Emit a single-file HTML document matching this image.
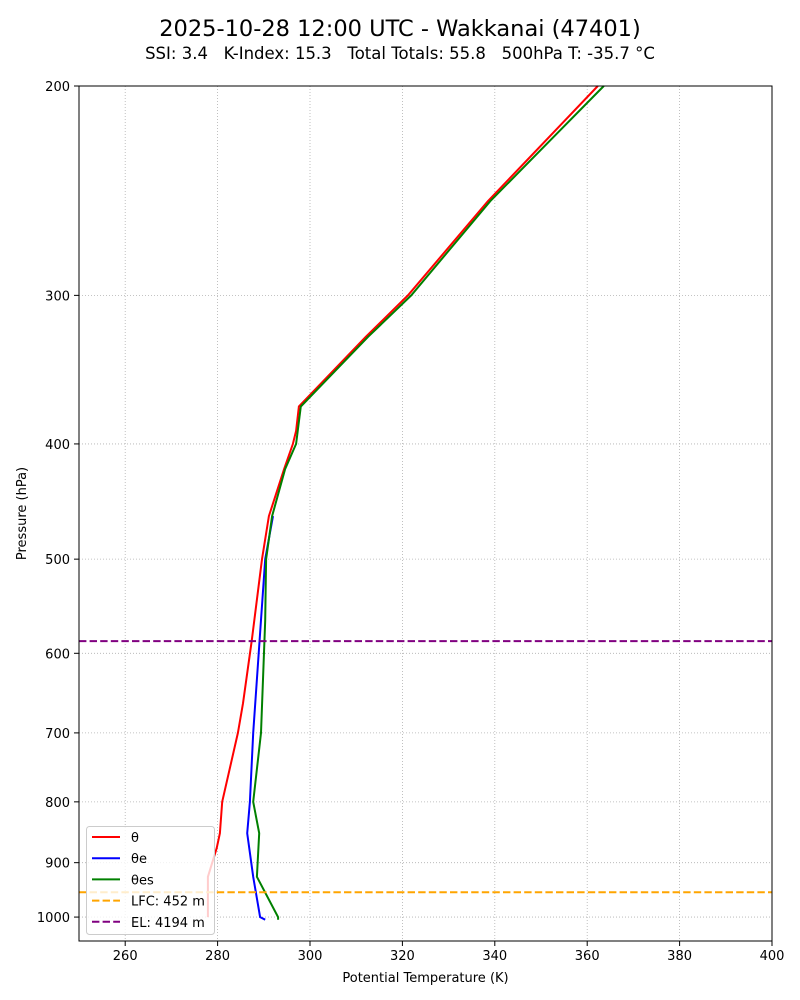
<!DOCTYPE html>
<html><head><meta charset="utf-8">
<style>
html,body{margin:0;padding:0;background:#fff;}
svg{display:block;font-family:"DejaVu Sans","Liberation Sans",sans-serif;}
.pre{white-space:pre;}
</style></head>
<body>
<svg id="chart" width="800" height="1000" viewBox="0 0 800 1000">
<text x="400" y="36" text-anchor="middle" font-size="22.5">2025-10-28 12:00 UTC - Wakkanai (47401)</text>
<text class="pre" x="400" y="59" text-anchor="middle" font-size="16.5" xml:space="preserve">SSI: 3.4   K-Index: 15.3   Total Totals: 55.8   500hPa T: -35.7 °C</text>
<g id="plot"></g>
</svg>
<script>
const xTicks=[260,280,300,320,340,360,380,400];
const yTicks=[200,300,400,500,600,700,800,900,1000];
const thetaP=[1000,925,875,850,800,700,661,585,500,460,420,400,390,372,325,300,250,200];
const thetaK=[277.9,277.9,279.8,280.5,281.0,284.4,285.5,287.4,289.6,291.1,294.4,296.3,297.0,297.6,312.1,321.2,338.5,362.3];
const thetaeP=[1005,1000,925,850,800,700,500,460];
const thetaeK=[290.3,289.2,287.7,286.4,287.0,287.7,290.3,292.0];
const thetaesP=[1005,1000,925,850,800,700,563,500,460,420,400,372,325,300,250,200];
const thetaesK=[293.1,293.1,288.5,289.0,287.7,289.4,290.3,290.5,291.8,294.6,297.0,298.0,312.6,321.9,339.0,363.6];
const lfcP=953, elP=586;
const L=79,R=772,T=86,B=941;
const xS=k=>L+(k-250)*(R-L)/150;
const yS=p=>T+Math.log10(p/200)*1189;
const NS='http://www.w3.org/2000/svg';
const g=document.getElementById('plot');
function mk(t,a){const e=document.createElementNS(NS,t);for(const k in a)e.setAttribute(k,a[k]);g.appendChild(e);return e;}
xTicks.forEach(v=>{const x=xS(v);
 const l=mk('line',{x1:x,x2:x,y1:T,y2:B,stroke:'#b0b0b0','stroke-width':0.8,'stroke-dasharray':'1,2'});
 
 const t=mk('line',{x1:x,x2:x,y1:B,y2:B+5,stroke:'#000'});
 
 const tx=mk('text',{x:x,y:B+19,'text-anchor':'middle','font-size':13});tx.textContent=v;
 });
yTicks.forEach(v=>{const y=yS(v);
 const l=mk('line',{x1:L,x2:R,y1:y,y2:y,stroke:'#b0b0b0','stroke-width':0.8,'stroke-dasharray':'1,2'});
 
 const t=mk('line',{x1:L-5,x2:L,y1:y,y2:y,stroke:'#000'});
 
 const tx=mk('text',{x:L-9,y:y+5,'text-anchor':'end','font-size':13});tx.textContent=v;
 });
function series(P,K,c,n){const pts=P.map((p,i)=>xS(K[i]).toFixed(1)+','+yS(p).toFixed(1)).join(' ');
 const e=mk('polyline',{points:pts,fill:'none',stroke:c,'stroke-width':2});
 }
series(thetaP,thetaK,'#ff0000','theta-line');
series(thetaeP,thetaeK,'#0000ff','theta-e-line');
series(thetaesP,thetaesK,'#008000','theta-es-line');
const lf=mk('line',{x1:L,x2:R,y1:yS(lfcP),y2:yS(lfcP),stroke:'orange','stroke-width':2,'stroke-dasharray':'7.4,3.2'});

const el=mk('line',{x1:L,x2:R,y1:yS(elP),y2:yS(elP),stroke:'purple','stroke-width':2,'stroke-dasharray':'7.4,3.2'});

const fr=mk('rect',{x:L,y:T,width:R-L,height:B-T,fill:'none',stroke:'#000','stroke-width':1});

const xl=mk('text',{x:(L+R)/2,y:982,'text-anchor':'middle','font-size':13});xl.textContent='Potential Temperature (K)';

const yl=mk('text',{x:26,y:(T+B)/2,'text-anchor':'middle','font-size':13,transform:'rotate(-90 26 '+((T+B)/2)+')'});yl.textContent='Pressure (hPa)';

const lg=mk('rect',{x:86.5,y:826.5,width:128,height:108,rx:3,fill:'rgba(255,255,255,0.8)',stroke:'#ccc'});

const items=[['θ','#ff0000',''],['θe','#0000ff',''],['θes','#008000',''],['LFC: 452 m','orange','7.4,3.2'],['EL: 4194 m','purple','7.4,3.2']];
items.forEach((it,i)=>{const y=837+i*21.2;
 const ln=mk('line',{x1:92,x2:120,y1:y,y2:y,stroke:it[1],'stroke-width':2,'stroke-dasharray':it[2]||'none'});
 
 const t=mk('text',{x:131,y:y+5,'font-size':13});t.textContent=it[0];
 });
</script>
</body></html>
